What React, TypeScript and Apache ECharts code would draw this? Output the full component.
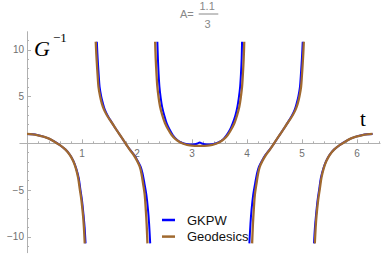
import React, { useEffect, useRef } from "react";
import * as echarts from "echarts";

// ---- data: [t, G^-1] ----
const geo1: number[][] = [[0, 1.0], [0.1, 0.96], [0.2, 0.86], [0.3, 0.72], [0.4, 0.5], [0.5, 0.18], [0.6, -0.2], [0.7, -0.68], [0.78, -1.25], [0.84, -1.9], [0.89, -2.7], [0.93, -3.7], [0.96, -4.9], [0.99, -6.1], [1.02, -7.8], [1.035, -9.0], [1.05, -10.7]];
const geo2: number[][] = [[1.25, 10.87], [1.26, 9.6], [1.27, 8.56], [1.285, 7.2], [1.3, 6.05], [1.33, 5.0], [1.36, 4.28], [1.4, 3.6], [1.45, 3.03], [1.51, 2.48], [1.57, 1.96], [1.63, 1.42], [1.69, 0.89], [1.75, 0.36], [1.81, -0.18], [1.87, -0.7], [1.94, -1.25], [2.0, -1.85], [2.05, -2.5], [2.08, -3.2], [2.11, -4.28], [2.14, -5.5], [2.16, -7.1], [2.175, -8.6], [2.19, -10.7]];
const geo3: number[][] = [[2.33, 10.87], [2.34, 9.1], [2.355, 7.4], [2.37, 6.05], [2.395, 4.8], [2.42, 3.9], [2.46, 3.0], [2.51, 2.14], [2.57, 1.45], [2.63, 0.89], [2.7, 0.45], [2.78, 0.12], [2.87, -0.1], [2.96, -0.22], [3.05, -0.27], [3.14, -0.28], [3.23, -0.27], [3.32, -0.22], [3.41, -0.1], [3.5, 0.12], [3.58, 0.45], [3.65, 0.89], [3.71, 1.45], [3.77, 2.14], [3.82, 3.0], [3.86, 3.9], [3.885, 4.8], [3.91, 6.05], [3.925, 7.4], [3.94, 9.1], [3.95, 10.87]];
const geo4: number[][] = [[4.093, -10.7], [4.108, -8.6], [4.123, -7.1], [4.143, -5.5], [4.173, -4.28], [4.203, -3.2], [4.233, -2.5], [4.283, -1.85], [4.343, -1.25], [4.413, -0.7], [4.473, -0.18], [4.533, 0.36], [4.593, 0.89], [4.653, 1.42], [4.713, 1.96], [4.773, 2.48], [4.833, 3.03], [4.883, 3.6], [4.923, 4.28], [4.953, 5.0], [4.983, 6.05], [4.998, 7.2], [5.013, 8.56], [5.023, 9.6], [5.033, 10.87]];
const geo5: number[][] = [[5.233, -10.7], [5.248, -9.0], [5.263, -7.8], [5.293, -6.1], [5.323, -4.9], [5.353, -3.7], [5.393, -2.7], [5.443, -1.9], [5.503, -1.25], [5.583, -0.68], [5.683, -0.2], [5.783, 0.18], [5.883, 0.5], [5.983, 0.72], [6.083, 0.86], [6.183, 0.96], [6.283, 1.0]];

const gk1: number[][] = [[0, 1.0], [0.1, 0.96], [0.2, 0.86], [0.3, 0.72], [0.4, 0.5], [0.5, 0.18], [0.6, -0.2], [0.7, -0.66], [0.78, -1.22], [0.845, -1.9], [0.895, -2.7], [0.94, -3.7], [0.97, -4.9], [1.0, -6.1], [1.03, -7.8], [1.048, -9.0], [1.065, -10.7]];
const gk2: number[][] = [[1.27, 10.87], [1.28, 9.6], [1.29, 8.56], [1.305, 7.2], [1.32, 6.05], [1.35, 5.0], [1.38, 4.28], [1.415, 3.6], [1.46, 3.03], [1.515, 2.48], [1.57, 1.96], [1.63, 1.42], [1.69, 0.89], [1.75, 0.36], [1.81, -0.18], [1.875, -0.7], [1.95, -1.25], [2.01, -1.85], [2.065, -2.5], [2.1, -3.2], [2.135, -4.28], [2.17, -5.5], [2.2, -7.1], [2.22, -8.6], [2.24, -10.7]];
const gk3: number[][] = [[2.37, 10.87], [2.38, 9.1], [2.393, 7.4], [2.408, 6.05], [2.432, 4.8], [2.457, 3.9], [2.495, 3.0], [2.54, 2.14], [2.595, 1.45], [2.65, 0.89], [2.715, 0.45], [2.79, 0.12], [2.87, -0.05], [2.96, -0.12], [3.05, -0.1], [3.1, -0.02], [3.14, 0.1], [3.18, -0.02], [3.23, -0.1], [3.32, -0.12], [3.41, -0.05], [3.49, 0.12], [3.57, 0.45], [3.63, 0.89], [3.69, 1.45], [3.74, 2.14], [3.79, 3.0], [3.825, 3.9], [3.85, 4.8], [3.875, 6.05], [3.89, 7.4], [3.903, 9.1], [3.91, 10.87]];
const gk4: number[][] = [[4.043, -10.7], [4.063, -8.6], [4.083, -7.1], [4.113, -5.5], [4.148, -4.28], [4.183, -3.2], [4.218, -2.5], [4.273, -1.85], [4.333, -1.25], [4.408, -0.7], [4.473, -0.18], [4.533, 0.36], [4.593, 0.89], [4.653, 1.42], [4.713, 1.96], [4.768, 2.48], [4.823, 3.03], [4.868, 3.6], [4.903, 4.28], [4.933, 5.0], [4.963, 6.05], [4.978, 7.2], [4.993, 8.56], [5.003, 9.6], [5.013, 10.87]];
const gk5: number[][] = [[5.218, -10.7], [5.235, -9.0], [5.253, -7.8], [5.283, -6.1], [5.313, -4.9], [5.343, -3.7], [5.388, -2.7], [5.438, -1.9], [5.503, -1.22], [5.583, -0.66], [5.683, -0.2], [5.783, 0.18], [5.883, 0.5], [5.983, 0.72], [6.083, 0.86], [6.183, 0.96], [6.283, 1.0]];

const xMajorTicks = [1, 2, 3, 4, 5, 6];
const xMinorTicks = [0.2, 0.4, 0.6, 0.8, 1.2, 1.4, 1.6, 1.8, 2.2, 2.4, 2.6, 2.8, 3.2, 3.4, 3.6, 3.8, 4.2, 4.4, 4.6, 4.8, 5.2, 5.4, 5.6, 5.8, 6.2, 6.4];
const yMajorTicks = [-10, -5, 5, 10];
const yMinorTicks = [-11, -9, -8, -7, -6, -4, -3, -2, -1, 1, 2, 3, 4, 6, 7, 8, 9, 11];

const seriesNames = ["GKPW", "Geodesics"];
const gkBranches = [gk1, gk2, gk3, gk4, gk5];
const geoBranches = [geo1, geo2, geo3, geo4, geo5];

const BLUE = "#0000ff";
const BROWN = "#a0692f";
const AXIS = "#b0b0b0";
const LABEL = "#707070";

export default function App() {
  const ref = useRef<HTMLDivElement>(null);
  useEffect(() => {
    if (!ref.current) return;
    const chart = echarts.init(ref.current, undefined, { renderer: "svg" });
    const xMin = -0.13, xMax = 6.42, yMin = -11.7, yMax = 11.94;
    const gLeft = 19.85, gRight = 1.9, gTop = 31.7, gBottom = 3.3;
    const W = 382, H = 256;
    const gW = W - gLeft - gRight;
    const gH = H - gTop - gBottom;
    // where the value 0 falls, to place the axes through the origin
    const zeroY = gTop + (gH * yMax) / (yMax - yMin);
    const zeroX = gLeft + (gW * -xMin) / (xMax - xMin);
    const xOffset = -(gTop + gH - zeroY);
    const yOffset = -(zeroX - gLeft);

    const mkSeries = (name: string, color: string, width: number, data: number[][]) => ({
      type: "line",
      name,
      data,
      xAxisIndex: 0,
      yAxisIndex: 0,
      showSymbol: false,
      smooth: 0.3,
      lineStyle: { color, width },
      itemStyle: { color },
      emphasis: { disabled: true },
    });
    const series: any[] = [
      ...gkBranches.map((d) => mkSeries(seriesNames[0], BLUE, 2, d)),
      ...geoBranches.map((d) => mkSeries(seriesNames[1], BROWN, 2.3, d)),
    ];
    const baseX = {
      type: "value",
      min: xMin,
      max: xMax,
      gridIndex: 0,
      position: "bottom",
      offset: xOffset,
      splitLine: { show: false },
    };
    const baseY = {
      type: "value",
      min: yMin,
      max: yMax,
      gridIndex: 0,
      position: "left",
      offset: yOffset,
      splitLine: { show: false },
    };
    chart.setOption({
      animation: false,
      grid: { left: gLeft, right: gRight, top: gTop, bottom: gBottom, containLabel: false },
      xAxis: [
        {
          ...baseX,
          axisLine: { show: true, onZero: false, lineStyle: { color: AXIS, width: 1 } },
          axisTick: { show: true, inside: true, length: 4, customValues: xMajorTicks, lineStyle: { color: AXIS } },
          axisLabel: {
            show: true,
            customValues: xMajorTicks,
            margin: 5,
            color: LABEL,
            fontSize: 10,
            fontFamily: "Liberation Sans, Arial, sans-serif",
          },
        },
        {
          ...baseX,
          axisLine: { show: false, onZero: false },
          axisTick: { show: true, inside: true, length: 2, customValues: xMinorTicks, lineStyle: { color: AXIS } },
          axisLabel: { show: false },
        },
      ],
      yAxis: [
        {
          ...baseY,
          axisLine: { show: true, onZero: false, lineStyle: { color: AXIS, width: 1 } },
          axisTick: { show: true, inside: true, length: 4, customValues: yMajorTicks, lineStyle: { color: AXIS } },
          axisLabel: {
            show: true,
            customValues: yMajorTicks,
            margin: 3,
            color: LABEL,
            fontSize: 10,
            fontFamily: "Liberation Sans, Arial, sans-serif",
            formatter: (v: number) => (v < 0 ? "\u2212" + Math.abs(v) : String(v)),
          },
        },
        {
          ...baseY,
          axisLine: { show: false, onZero: false },
          axisTick: { show: true, inside: true, length: 2, customValues: yMinorTicks, lineStyle: { color: AXIS } },
          axisLabel: { show: false },
        },
      ],
      legend: {
        data: seriesNames,
        orient: "vertical",
        left: 157,
        top: 208,
        icon: "rect",
        itemWidth: 13,
        itemHeight: 2.5,
        itemGap: 2.6,
        formatter: (name: string) => "{p|}" + name,
        textStyle: {
          fontSize: 13,
          lineHeight: 14,
          color: "#111",
          fontFamily: "Liberation Sans, Arial, sans-serif",
          rich: { p: { width: 7 } },
        },
        selectedMode: false,
      },
      graphic: [
        { type: "text", left: 180, top: 8.5, style: { text: "A=", fontSize: 11, fill: "#888", fontFamily: "Liberation Sans, Arial, sans-serif" } },
        { type: "text", left: 199.5, top: 0.5, style: { text: "1.1", fontSize: 11, fill: "#888", fontFamily: "Liberation Sans, Arial, sans-serif" } },
        { type: "line", shape: { x1: 198.7, y1: 14, x2: 218.3, y2: 14 }, style: { stroke: "#888", lineWidth: 1 } },
        { type: "text", left: 204.5, top: 18, style: { text: "3", fontSize: 11, fill: "#888", fontFamily: "Liberation Sans, Arial, sans-serif" } },
        { type: "text", left: 34, top: 37, style: { text: "G", fontSize: 22, fontStyle: "italic", fill: "#000", fontFamily: "Liberation Serif, DejaVu Serif, serif" } },
        { type: "text", left: 53, top: 31, style: { text: "\u22121", fontSize: 13, fill: "#000", fontFamily: "Liberation Serif, DejaVu Serif, serif" } },
        { type: "text", left: 360, top: 108, style: { text: "t", fontSize: 21, fill: "#000", fontFamily: "Liberation Serif, DejaVu Serif, serif" } },
      ],
      series,
    });
    return () => chart.dispose();
  }, []);
  return (
    <div
      ref={ref}
      style={{ position: "fixed", left: 0, top: 0, width: 382, height: 256, background: "#fff" }}
    />
  );
}
